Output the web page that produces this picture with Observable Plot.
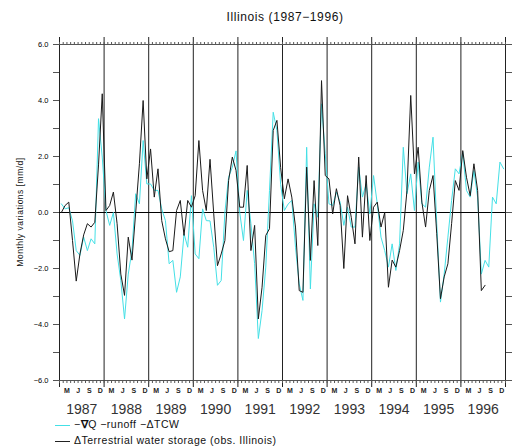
<!DOCTYPE html>
<html><head><meta charset="utf-8">
<script src="https://cdn.jsdelivr.net/npm/d3@7"></script>
<script src="https://cdn.jsdelivr.net/npm/@observablehq/plot@0.6"></script>
<style>
body{margin:0;background:#fff;}
#wrap{position:relative;width:512px;height:448px;font-family:"Liberation Sans",Arial,sans-serif;color:#000;overflow:hidden;}
#wrap svg{position:absolute;left:0;top:0;}
.ov{position:absolute;white-space:nowrap;}
#title{left:0;width:570px;top:11px;text-align:center;font-size:12px;letter-spacing:0.6px;line-height:12px;color:#111;}
#ylab{left:20px;top:212px;font-size:8.5px;letter-spacing:0.5px;transform:translate(-50%,-50%) rotate(-90deg);color:#111;}
.leg{left:55px;font-size:10.5px;letter-spacing:0.5px;line-height:12px;color:#111;}
.sw{display:inline-block;width:15px;height:1px;vertical-align:middle;margin-right:4px;}
</style></head><body>
<div id="wrap">
  <div class="ov" id="title">Illinois (1987−1996)</div>
  <div class="ov" id="ylab">Monthly variations [mm/d]</div>
  <div class="ov leg" style="top:418px"><span class="sw" style="background:#44e0e6"></span>−<b>∇</b>Q −runoff −ΔTCW</div>
  <div class="ov leg" style="top:434px"><span class="sw" style="background:#222"></span>ΔTerrestrial water storage (obs. Illinois)</div>
</div>
<script>
const years = [1987,1988,1989,1990,1991,1992,1993,1994,1995,1996];
const monthLabels = ["M","J","S","D"];
const monthLabelIdx = [2,5,8,11];
const yTicks = [-6,-5,-4,-3,-2,-1,0,1,2,3,4,5,6];

// −∇Q − runoff − ΔTCW (monthly, Jan 1987 – Dec 1996)
const modelSeries = [
  0.31, 0.13, 0.17, -0.3, -1.36, -1.53, -0.88, -1.36, -0.94, -1.12, 3.35, 1.98,
  0.07, -0.46, 0.0, -1.48, -2.43, -3.8, -2.2, -1.36, 0.67, 0.31, 2.57, 1.02,
  1.02, 0.79, 0.79, 0.13, -0.29, -1.83, -1.71, -2.85, -2.3, -0.76, -1.24, 0.6,
  -1.48, -1.65, 0.13, -0.29, -0.3, -1.24, -2.6, -2.43, 0.0, 1.26, 1.62, 2.2,
  0.0, -1.0, 0.79, -0.4, -1.83, -4.5, -3.5, -1.95, 0.79, 3.58, 2.93, 1.0,
  0.07, 0.3, 0.43, -1.24, -2.55, -3.14, 2.33, -2.73, 0.31, -0.17, 3.88, 2.1,
  0.31, 0.25, 0.73, 0.37, -0.46, 0.19, -0.52, -0.52, 1.62, 0.55, 1.02, -0.05,
  1.32, 0.31, -0.88, -1.36, -1.95, -1.12, -2.07, -1.12, 2.33, 0.67, 1.38, 0.07,
  1.8, 0.31, 0.19, 1.62, 2.69, -0.4, -3.2, -2.2, -0.88, 0.43, 1.56, 1.38,
  2.15, 0.79, 0.55, 1.5, 0.55, -2.2, -1.71, -1.95, 0.55, 0.31, 1.8, 1.56
];

// ΔTerrestrial water storage (obs.), Jan 1987 – Jul 1996
const obsSeries = [
  0.0, 0.25, 0.37, -1.0, -2.45, -1.48, -0.8, -0.4, -0.52, -0.35, 1.7, 4.24,
  0.07, 0.25, 0.73, -0.4, -2.2, -2.96, -0.88, -1.7, 0.0, 1.74, 4.0, 1.2,
  2.27, 0.55, 1.56, -0.29, -0.94, -1.4, -1.36, 0.07, 0.43, -0.82, 0.43, 0.19,
  0.6, 2.57, 0.79, 0.07, 1.9, -0.05, -1.9, -1.48, -1.0, 1.14, 1.98, 1.5,
  0.19, 0.19, 1.68, -1.36, -0.46, -3.8, -2.67, -0.82, -0.58, 2.93, 3.29, 1.6,
  0.49, 1.2, 0.55, -0.52, -2.79, -2.85, 1.62, -1.71, 1.14, -1.18, 4.71, 1.32,
  1.2, -0.05, 0.85, 0.25, -2.0, 0.6, -0.17, -1.12, 1.98, -0.88, 1.32, -1.0,
  0.19, 0.37, -0.52, 0.0, -2.67, -1.7, -1.95, -1.36, -0.64, 0.79, 4.18, 1.38,
  2.33, 0.37, -0.52, 0.79, 1.32, -0.76, -3.08, -2.3, -1.83, -0.4, 1.14, 0.79,
  2.21, 1.26, 0.6, 1.74, 0.79, -2.79, -2.6
];

const fmt = d3.format(".1f");
const nMonths = years.length * 12;
const monthTicks = d3.range(0, nMonths + 1);
const yearBounds = d3.range(0, years.length + 1).map(k => 12 * k);
const labelTicks = years.flatMap((y, k) => monthLabelIdx.map(m => 12 * k + m));
const yearCenters = years.map((y, k) => 12 * k + 6);
const frameColor = "#555";

const chart = Plot.plot({
  width: 512, height: 448,
  marginLeft: 59, marginRight: 7, marginTop: 44, marginBottom: 68,
  x: {domain: [0, nMonths]},
  y: {domain: [-6, 6]},
  style: {fontFamily: "Liberation Sans, Arial, sans-serif", color: "#000", background: "transparent", overflow: "visible"},
  marks: [
    Plot.frame({stroke: frameColor}),
    Plot.ruleX(yearBounds, {x: d => d, stroke: "#222", insetTop: -7, insetBottom: -7}),
    Plot.ruleY([0], {stroke: "#000"}),
    Plot.axisY({anchor: "left", ticks: yTicks, tickSize: 6, tickPadding: 5,
      tickFormat: d => d % 2 === 0 ? fmt(d) : "", fontSize: 7.5, stroke: frameColor, label: null}),
    Plot.axisY({anchor: "right", ticks: yTicks, tickSize: 6, tickFormat: () => "", stroke: frameColor, label: null}),
    Plot.axisX({anchor: "top", ticks: monthTicks, tickSize: 3, tickFormat: () => "", stroke: frameColor, label: null}),
    Plot.axisX({anchor: "bottom", ticks: monthTicks, tickSize: 3, tickFormat: () => "", stroke: frameColor, label: null}),
    Plot.axisX({anchor: "bottom", ticks: labelTicks, tickSize: 0, tickPadding: 8,
      tickFormat: d => monthLabels[monthLabelIdx.indexOf(d % 12)], fontSize: 7, fontWeight: "bold", fill: "#222", label: null}),
    Plot.axisX({anchor: "bottom", ticks: yearCenters, tickSize: 0, tickPadding: 24,
      tickFormat: d => String(years[(d - 6) / 12]), fontSize: 14, fill: "#333", label: null}),
    Plot.lineY(modelSeries, {x: (d, i) => i + 0.5, y: d => d, stroke: "#44e0e6", strokeWidth: 1}),
    Plot.lineY(obsSeries, {x: (d, i) => i + 0.5, y: d => d, stroke: "#1a1a1a", strokeWidth: 1})
  ]
});
document.getElementById("wrap").prepend(chart);
</script>
</body></html>
